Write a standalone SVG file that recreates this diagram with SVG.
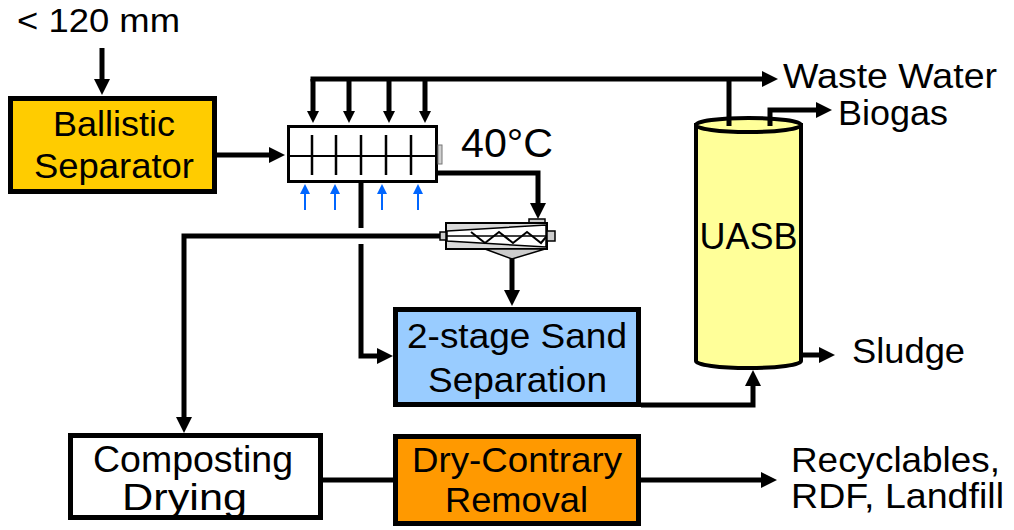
<svg xmlns="http://www.w3.org/2000/svg" width="1014" height="530" viewBox="0 0 1014 530">
<style>
text{font-family:"Liberation Sans",Arial,sans-serif;fill:#000}
.lbl{font-size:35px}
.box{stroke:#000;stroke-width:5}
.ln{fill:none;stroke:#000;stroke-width:5}
.thin{fill:none;stroke:#000;stroke-width:2}
.blue{fill:none;stroke:#0066ff;stroke-width:2}
</style>
<defs>
<marker id="ah" viewBox="0 0 10 10" refX="0" refY="5" markerUnits="userSpaceOnUse" markerWidth="16" markerHeight="17" orient="auto"><path d="M0,0 L10,5 L0,10 z" fill="#000"/></marker>
<marker id="as" viewBox="0 0 10 10" refX="0" refY="5" markerUnits="userSpaceOnUse" markerWidth="12" markerHeight="13" orient="auto"><path d="M0,0 L10,5 L0,10 z" fill="#000"/></marker>
<marker id="ab" viewBox="0 0 10 10" refX="0" refY="5" markerUnits="userSpaceOnUse" markerWidth="10" markerHeight="10" orient="auto"><path d="M0,0 L10,5 L0,10 z" fill="#0066ff"/></marker>
</defs>

<g id="connectors">
<path class="ln" d="M102,48 V79" marker-end="url(#ah)"/>
<path class="ln" d="M217,155 H269" marker-end="url(#ah)"/>
<path class="ln" d="M310.5,79 H762" marker-end="url(#ah)"/>
<path class="ln" d="M313,79 V111" marker-end="url(#as)"/>
<path class="ln" d="M349,79 V111" marker-end="url(#as)"/>
<path class="ln" d="M389,79 V111" marker-end="url(#as)"/>
<path class="ln" d="M425,79 V111" marker-end="url(#as)"/>
<path class="ln" d="M729,125 V79"/>
<path class="ln" d="M770,123 V110 H816" marker-end="url(#ah)"/>
<path class="blue" d="M305,210 V194" marker-end="url(#ab)"/>
<path class="blue" d="M335,210 V194" marker-end="url(#ab)"/>
<path class="blue" d="M382,210 V194" marker-end="url(#ab)"/>
<path class="blue" d="M418,210 V194" marker-end="url(#ab)"/>
<path class="ln" d="M361,183 V228"/>
<path class="ln" d="M361,244 V356 H377" marker-end="url(#ah)"/>
<path class="ln" d="M438,173 H538 V203" marker-end="url(#ah)"/>
<path class="ln" d="M441,236 H184 V417" marker-end="url(#ah)"/>
<path class="ln" d="M512,258 V290" marker-end="url(#ah)"/>
<path class="ln" d="M641,405 H753 V386" marker-end="url(#ah)"/>
<path class="ln" d="M803,355 H819" marker-end="url(#ah)"/>
<path class="ln" d="M323,480 H393"/>
<path class="ln" d="M641,480 H761" marker-end="url(#ah)"/>
</g>

<g id="input-label">
<text x="17" y="32" style="font-size:33px" textLength="163" lengthAdjust="spacingAndGlyphs">&lt; 120 mm</text>
</g>

<g id="ballistic">
<rect class="box" x="10.5" y="98.5" width="204" height="93" fill="#FFCC00"/>
<text class="lbl" x="53" y="136" textLength="122" lengthAdjust="spacingAndGlyphs">Ballistic</text>
<text class="lbl" x="34" y="178" textLength="160" lengthAdjust="spacingAndGlyphs">Separator</text>
</g>

<g id="percolator">
<rect x="288.5" y="126.5" width="148" height="55" fill="#fff" stroke="#000" stroke-width="3"/>
<path class="thin" d="M289,156 H436"/>
<path d="M312,135 V175 M336,135 V175 M361,135 V175 M386,135 V175 M411,135 V175" stroke="#000" stroke-width="2.5" fill="none"/>
<rect x="438" y="145" width="4" height="19" fill="#d0d0d0" stroke="#777" stroke-width="1"/>
<text x="461" y="157" style="font-size:40px" textLength="92" lengthAdjust="spacingAndGlyphs">40°C</text>
</g>

<g id="screw">
<rect x="529" y="219" width="16" height="4" fill="#ccc" stroke="#000" stroke-width="1.5"/>
<rect x="446" y="223" width="101" height="26" fill="#d9d9d9" stroke="#000" stroke-width="2"/>
<polygon points="447,231 546,225 546,247 447,241" fill="#fff" stroke="#000" stroke-width="1.5"/>
<path d="M440,236 H555" stroke="#000" stroke-width="1.5"/>
<polyline points="471,232 485,243 499,232 513,243 527,232 541,243 546,237" fill="none" stroke="#000" stroke-width="2"/>
<rect x="440" y="232" width="6" height="8" fill="#ccc" stroke="#000" stroke-width="1.5"/>
<rect x="547" y="231" width="8" height="10" fill="#ccc" stroke="#000" stroke-width="1.5"/>
<polygon points="485,249 545,249 512,259" fill="#ccc" stroke="#000" stroke-width="1.5"/>
</g>

<g id="sand">
<rect class="box" x="395.5" y="309.5" width="243" height="95" fill="#99CCFF"/>
<text class="lbl" x="407" y="348" textLength="220" lengthAdjust="spacingAndGlyphs">2-stage Sand</text>
<text class="lbl" x="428" y="392" textLength="179" lengthAdjust="spacingAndGlyphs">Separation</text>
</g>

<g id="uasb">
<path d="M696,125 V361 A52.5,7 0 0 0 801,361 V125 Z" fill="#FFFF99" stroke="#000" stroke-width="4"/>
<ellipse cx="748.5" cy="125" rx="52.5" ry="7" fill="#FFFF99" stroke="#000" stroke-width="4"/>
<path class="ln" d="M729,117 V126 M770,117 V126"/>
<text x="748.5" y="249" text-anchor="middle" style="font-size:36px">UASB</text>
</g>

<g id="outputs">
<text class="lbl" x="783" y="88" textLength="214" lengthAdjust="spacingAndGlyphs">Waste Water</text>
<text class="lbl" x="838" y="125" textLength="110" lengthAdjust="spacingAndGlyphs">Biogas</text>
<text class="lbl" x="852" y="363" textLength="113" lengthAdjust="spacingAndGlyphs">Sludge</text>
<text class="lbl" x="791" y="472" textLength="209" lengthAdjust="spacingAndGlyphs">Recyclables,</text>
<text class="lbl" x="791" y="508" textLength="213" lengthAdjust="spacingAndGlyphs">RDF, Landfill</text>
</g>

<g id="composting">
<rect class="box" x="70.5" y="435.5" width="250" height="82" fill="#fff"/>
<text x="93" y="472" style="font-size:37px" textLength="200" lengthAdjust="spacingAndGlyphs">Composting</text>
<text x="122" y="510" style="font-size:37px" textLength="125" lengthAdjust="spacingAndGlyphs">Drying</text>
</g>

<g id="drycontrary">
<rect class="box" x="395.5" y="436.5" width="243" height="87" fill="#FF9900"/>
<text class="lbl" x="412" y="472" textLength="210" lengthAdjust="spacingAndGlyphs">Dry-Contrary</text>
<text class="lbl" x="445" y="512" textLength="143" lengthAdjust="spacingAndGlyphs">Removal</text>
</g>
</svg>
